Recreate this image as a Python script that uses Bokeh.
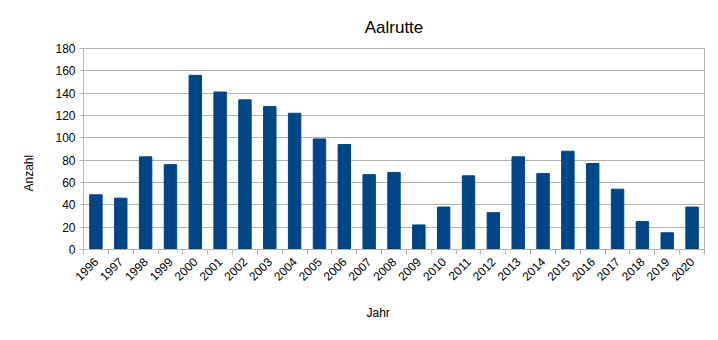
import numpy as np
from bokeh.plotting import figure
from bokeh.models import FixedTicker, Range1d, Title, ColumnDataSource
from bokeh.embed import file_html
from bokeh.resources import INLINE

years = [str(y) for y in range(1996, 2021)]
counts = [49, 46, 83, 76, 156, 141, 134, 128, 122, 99, 94, 67, 69, 22, 38, 66, 33, 83, 68, 88, 77, 54, 25, 15, 38]
y_ticks = list(range(0, 181, 20))

FONT = "Liberation Sans"
GRID = "#b3b3b3"

xs = list(range(len(years)))
src = ColumnDataSource(dict(x=xs, top=counts))

p = figure(width=718, height=340, output_backend="svg", toolbar_location=None,
           x_range=Range1d(-0.5, len(years) - 0.5), y_range=Range1d(0, 180),
           min_border_left=83, min_border_right=14, min_border_top=48, min_border_bottom=91)

p.vbar(x="x", top="top", width=0.5, source=src, color="#004586")

p.title.text = "Aalrutte"
p.title.text_font = FONT
p.title.text_font_size = "17px"
p.title.text_font_style = "normal"
p.title.align = "center"
p.title.offset = -35
p.title.standoff = 23
p.title.text_color = "#000000"

p.outline_line_color = GRID
p.xgrid.grid_line_color = None
p.ygrid.grid_line_color = GRID
p.ygrid.ticker = FixedTicker(ticks=y_ticks)

p.xaxis.ticker = FixedTicker(ticks=xs, minor_ticks=[i - 0.5 for i in range(len(years) + 1)])
p.xaxis.major_label_overrides = {i: y for i, y in zip(xs, years)}
p.xaxis.major_label_orientation = np.pi / 4
p.xaxis.major_tick_line_color = None
p.xaxis.minor_tick_line_color = GRID
p.xaxis.minor_tick_out = 5
p.xaxis.minor_tick_in = 0
p.xaxis.major_label_standoff = 4

p.yaxis.ticker = FixedTicker(ticks=y_ticks)
p.yaxis.major_tick_line_color = GRID
p.yaxis.major_tick_out = 4
p.yaxis.major_tick_in = 0
p.yaxis.minor_tick_line_color = None
p.yaxis.major_label_standoff = 4

for ax in (p.xaxis, p.yaxis):
    ax.axis_line_color = GRID
    ax.major_label_text_font = FONT
    ax.major_label_text_font_size = "12px"
    ax.major_label_text_color = "#000000"

p.xaxis.axis_label = None
p.yaxis.axis_label = None

p.add_layout(Title(text="Jahr", align="left", offset=283, standoff=33, text_font=FONT,
                   text_font_size="12px", text_font_style="normal", text_color="#000000"), "below")
p.add_layout(Title(text="Anzahl", align="left", offset=58, standoff=33, text_font=FONT,
                   text_font_size="12px", text_font_style="normal", text_color="#000000"), "left")

open("out.html", "w").write(file_html(p, INLINE))
